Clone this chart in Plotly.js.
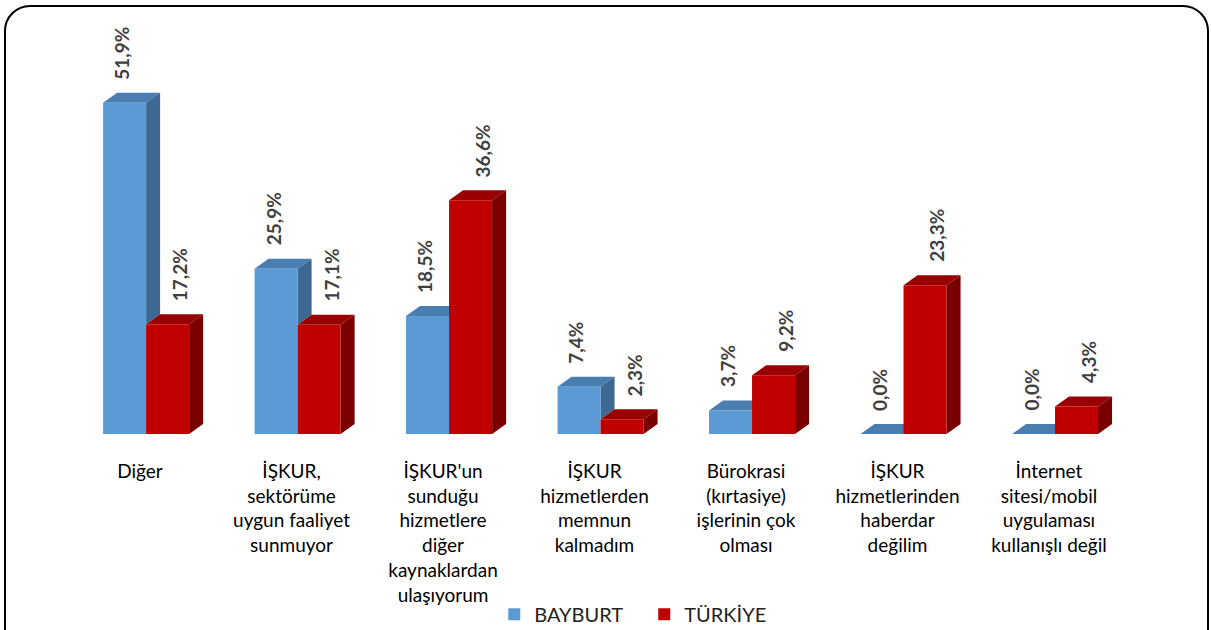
<!DOCTYPE html>
<html>
<head>
<meta charset="utf-8">
<script src="https://cdn.plot.ly/plotly-3.0.1.min.js"></script>
<style>
  html, body { margin: 0; padding: 0; background: #fff; overflow: hidden; }
  #wrap { position: relative; width: 1211px; height: 630px; overflow: hidden; }
  #chart { position: absolute; left: 0; top: 0; width: 1211px; height: 630px; }
  #frame { position: absolute; left: 4px; top: 5px; width: 1201px; height: 700px;
           border: 2px solid #000; border-radius: 26px; pointer-events: none; }
</style>
</head>
<body>
<div id="wrap"><div id="chart"></div><div id="frame"></div></div>
<script>
const categories = [
  "Diğer",
  "İŞKUR,<br>sektörüme<br>uygun faaliyet<br>sunmuyor",
  "İŞKUR'un<br>sunduğu<br>hizmetlere<br>diğer<br>kaynaklardan<br>ulaşıyorum",
  "İŞKUR<br>hizmetlerden<br>memnun<br>kalmadım",
  "Bürokrasi<br>(kırtasiye)<br>işlerinin çok<br>olması",
  "İŞKUR<br>hizmetlerinden<br>haberdar<br>değilim",
  "İnternet<br>sitesi/mobil<br>uygulaması<br>kullanışlı değil"
];
const seriesNames = ["BAYBURT", "TÜRKİYE"];
const bayburt = [51.9, 25.9, 18.5, 7.4, 3.7, 0.0, 0.0];
const turkiye = [17.2, 17.1, 36.6, 2.3, 9.2, 23.3, 4.3];

// styling
const W = 1211, H = 630;
const margin = {l: 34, r: 56, t: 51, b: 196};
const xRange = [-0.7, 6.7];
const yRange = [0, 60];
const barW = 0.284;     // bar width (axis units)
const shift = 0.04;     // group shift relative to tick
const depthPx = 14, risePx = 10; // 3D depth in pixels
const pxPerX = (W - margin.l - margin.r) / (xRange[1] - xRange[0]);
const pxPerY = (H - margin.t - margin.b) / (yRange[1] - yRange[0]);
const DX = depthPx / pxPerX, DY = risePx / pxPerY;

const colors = {
  front: ["#5B9BD5", "#C00000"],
  top:   ["#4A7DB0", "#990000"],
  side:  ["#3C6891", "#7A0000"]
};

const xs = categories.map((c, i) => i);
const fmt = v => v.toFixed(1).replace('.', ',') + '%';

const traces = [bayburt, turkiye].map((vals, s) => ({
  type: 'bar',
  name: seriesNames[s],
  x: xs,
  y: vals,
  width: barW,
  offset: s === 0 ? -barW + shift : shift,
  marker: {color: colors.front[s], line: {width: 0}},
  hoverinfo: 'skip'
}));

const shapes = [];
const annotations = [];
[bayburt, turkiye].forEach((vals, s) => {
  vals.forEach((v, i) => {
    const xl = i + (s === 0 ? -barW + shift : shift);
    const xr = xl + barW;
    // top face
    shapes.push({
      type: 'path', xref: 'x', yref: 'y', layer: 'below',
      path: `M${xl},${v} L${xr},${v} L${xr + DX},${v + DY} L${xl + DX},${v + DY} Z`,
      fillcolor: colors.top[s], line: {width: 0}
    });
    // side face (blue side only visible above neighbouring red bar)
    let base = 0;
    if (s === 0) base = Math.min(v, turkiye[i]);
    if (v > base) {
      shapes.push({
        type: 'path', xref: 'x', yref: 'y', layer: 'below',
        path: `M${xr},${base} L${xr + DX},${base + DY} L${xr + DX},${v + DY} L${xr},${v} Z`,
        fillcolor: colors.side[s], line: {width: 0}
      });
    }
    annotations.push({
      x: (xl + xr) / 2, y: v, xref: 'x', yref: 'y',
      text: fmt(v), showarrow: false, textangle: -90,
      xanchor: 'center', yanchor: 'bottom',
      xshift: s === 0 ? -3 : 12, yshift: 21,
      font: {family: 'Lato, sans-serif', size: 19, color: '#404040', weight: 'bold'}
    });
  });
});

const layout = {
  width: W, height: H,
  margin: margin,
  paper_bgcolor: '#fff', plot_bgcolor: '#fff',
  barmode: 'overlay',
  showlegend: true,
  legend: {
    orientation: 'h', xref: 'container', yref: 'container',
    x: 0.532, xanchor: 'center', y: 0.025, yanchor: 'middle',
    font: {family: 'Lato, sans-serif', size: 20, color: '#222'},
    entrywidth: 105,
    traceorder: 'normal'
  },
  xaxis: {
    range: xRange, tickvals: xs, ticktext: categories,
    showgrid: false, zeroline: false, showline: false, ticks: '',
    tickangle: 0, ticklabelstandoff: 24,
    tickfont: {family: 'Lato, sans-serif', size: 19, color: '#000'},
    fixedrange: true
  },
  yaxis: {
    range: yRange, visible: false, fixedrange: true
  },
  shapes: shapes,
  annotations: annotations
};

Plotly.newPlot('chart', traces, layout, {displayModeBar: false, staticPlot: true});
</script>
</body>
</html>
